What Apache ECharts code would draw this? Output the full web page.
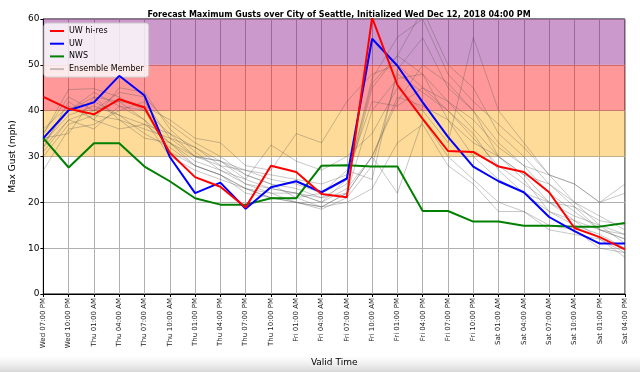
<!DOCTYPE html>
<html>
<head>
<meta charset="utf-8">
<script src="https://cdn.jsdelivr.net/npm/echarts@6/dist/echarts.min.js"></script>
<style>html,body{margin:0;padding:0;background:#fff}#c{width:640px;height:372px}</style>
</head>
<body>
<div id="c"></div>
<script>
var categories = ["Wed 07:00 PM","Wed 10:00 PM","Thu 01:00 AM","Thu 04:00 AM","Thu 07:00 AM","Thu 10:00 AM","Thu 01:00 PM","Thu 04:00 PM","Thu 07:00 PM","Thu 10:00 PM","Fri 01:00 AM","Fri 04:00 AM","Fri 07:00 AM","Fri 10:00 AM","Fri 01:00 PM","Fri 04:00 PM","Fri 07:00 PM","Fri 10:00 PM","Sat 01:00 AM","Sat 04:00 AM","Sat 07:00 AM","Sat 10:00 AM","Sat 01:00 PM","Sat 04:00 PM"];
var uwHires = [43,40.4,39.2,42.5,40.7,30.8,25.5,23.4,18.9,28.0,26.6,21.8,21.1,60.3,45.6,38.2,31.2,31.0,27.8,26.6,22.2,14.4,12.4,9.75];
var uw = [34.0,40.1,41.8,47.6,43.3,29.9,22.0,24.3,18.6,23.3,24.6,22.2,25.2,55.7,49.8,41.8,34.3,27.8,24.6,22.2,16.8,13.7,11.0,11.0];
var nws = [34.0,27.6,32.9,32.9,27.8,24.6,20.9,19.5,19.5,20.9,20.9,28.0,28.1,27.8,27.8,18.1,18.1,15.8,15.8,14.9,14.9,14.7,14.7,15.5];
var ensemble = [
  [33,40,44,41,38,33,28,26,23,21,20,19,22,30,42,50,46,40,33,28,22,18,14,12],
  [35,44.6,44.8,43,40,35,30,28,24,23,22,21,24,45,52,62,50,45,35,30,24,20,15,13],
  [31,38,40,44,43,37,33,30,26,24,21,22,25,47,56,60,48,42,37,32,26,20,17,14],
  [27,36,37,40,42,34,30,29,27,25,24,22,27,25,49,55.9,45,40,30,26,24,19,16,15],
  [32,42,38,36,37,35,32,29,25,32.5,29,27,30,35,45,40,33,56,40,33,26,24,20,24],
  [34,35,43,42,41,38,34,33,28,27,35,33,42,48,50,45,42,36,30,25,18,16,14,12],
  [36,41,38,45,44,36,31,27,25,23,22,20,23,30,22,38,30,25,20,18,14,13,12,9],
  [30,37,39,38,34,33,29,27,24,22,20,18.5,21,28,48,44,40,35,27,22,20,17,15,11],
  [33,39,41,39,35,32,28,26,23,21,21,19,20,23,33,37,28,24,18,18,15,14,10,9],
  [35,43,40,42,38,30,27,25,23,22,22,20,25,46,52,48,42,38,32,28,26,24,20,22],
  [32,38,36,41,40,31,28,26,22,21,20,19,22,30,43,41,38,33,30,26,20,16,12,8],
  [34,40,42,39,37,33,30,29,26,24,23,21,22,40,47,48,38,30,25,22,18,15,13,10],
  [34,40,43,38,36,34,32,28,27,26,25,24,26,42,41,45,40,34,28,24,20,19,14,13]
];
var bands = [[30,40,'rgba(255,165,0,0.4)'],[40,50,'rgba(255,0,0,0.4)'],[50,60,'rgba(128,0,128,0.4)']];
var yTicks = [0,10,20,30,40,50,60];

var font = 'DejaVu Sans';
var series = [];
ensemble.forEach(function(d, k){
  series.push({name:'Ensemble Member', type:'line', data:d, symbol:'none', z:2,
    lineStyle:{color:'rgba(80,80,80,0.32)', width:1}, itemStyle:{color:'rgba(80,80,80,0.32)'},
    markArea: k===0 ? {silent:true, z:1, data: bands.map(function(b){return [{yAxis:b[0], itemStyle:{color:b[2]}},{yAxis:b[1]}];})} : undefined
  });
});
series.push({name:'NWS', type:'line', data:nws, symbol:'none', z:3, lineStyle:{color:'#008000', width:2}, itemStyle:{color:'#008000'}});
series.push({name:'UW', type:'line', data:uw, symbol:'none', z:4, lineStyle:{color:'#0000ff', width:2}, itemStyle:{color:'#0000ff'}});
series.push({name:'UW hi-res', type:'line', data:uwHires, symbol:'none', z:5, lineStyle:{color:'#ff0000', width:2}, itemStyle:{color:'#ff0000'}});

var chart = echarts.init(document.getElementById('c'), null, {renderer:'canvas'});
chart.setOption({
  animation:false,
  backgroundColor:'#fff',
  title:{text:'Forecast Maximum Gusts over City of Seattle, Initialized Wed Dec 12, 2018 04:00 PM', left:334, textAlign:'center', top:6,
    textStyle:{fontFamily:font, fontSize:8, fontWeight:'bold', color:'#000'}},
  grid:{left:39, right:15, top:19, bottom:70, show:true, borderColor:'#000', borderWidth:1, backgroundColor:'transparent'},
  legend:{data:['UW hi-res','UW','NWS','Ensemble Member'], orient:'vertical', left:44, top:23, icon:'rect', itemWidth:14, itemHeight:2, itemGap:2.7,
    padding:[3,5,3,6], backgroundColor:'rgba(255,255,255,0.8)', borderColor:'#cccccc', borderWidth:1, borderRadius:3,
    textStyle:{fontFamily:font, fontSize:8, lineHeight:10, color:'#000'}},
  xAxis:{type:'category', data:categories, boundaryGap:false,
    axisLine:{lineStyle:{color:'#000'}}, axisTick:{show:true, alignWithLabel:true, length:3, lineStyle:{color:'#000'}},
    axisLabel:{rotate:90, interval:0, fontFamily:font, fontSize:7, color:'#222', margin:4},
    splitLine:{show:true, lineStyle:{color:'#b0b0b0', width:1}},
    name:'Valid Time', nameLocation:'middle', nameGap:64, nameTextStyle:{fontFamily:font, fontSize:9, color:'#000'}},
  yAxis:{type:'value', min:yTicks[0], max:yTicks[yTicks.length-1], interval:10,
    axisLine:{show:true, lineStyle:{color:'#000'}}, axisTick:{show:true, length:3, lineStyle:{color:'#000'}},
    axisLabel:{fontFamily:font, fontSize:9, color:'#000', margin:4},
    splitLine:{show:true, lineStyle:{color:'#b0b0b0', width:1}},
    name:'Max Gust (mph)', nameLocation:'middle', nameGap:24, nameTextStyle:{fontFamily:font, fontSize:9, color:'#000'}},
  graphic:[{type:'rect', z:-10, silent:true, shape:{x:0, y:356, width:640, height:16},
    style:{fill:new echarts.graphic.LinearGradient(0,0,0,1,[{offset:0,color:'rgba(230,230,230,0)'},{offset:1,color:'rgba(215,215,215,1)'}])}}],
  series:series
});
</script>
</body>
</html>
